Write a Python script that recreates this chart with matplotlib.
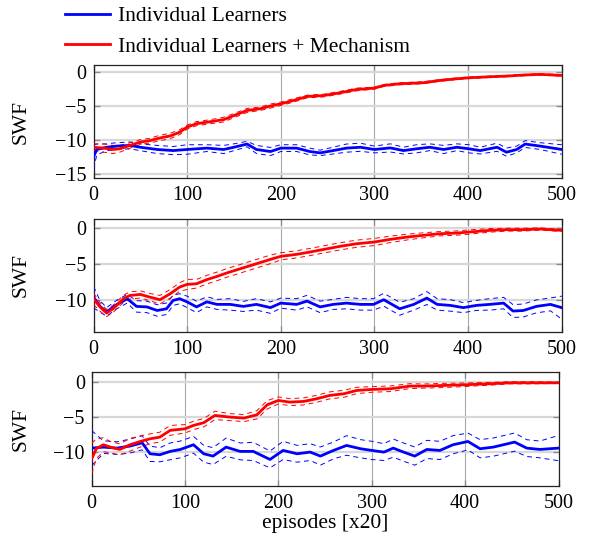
import matplotlib
matplotlib.use("Agg")
import matplotlib.pyplot as plt
from matplotlib.lines import Line2D

plt.rcParams['font.family'] = ['Liberation Serif', 'DejaVu Serif']

# ---------------- data: (episode, mean SWF, band half-width) ----------------
p1_blue = [(0,-12.5,1.8),(3.5,-11.4,0.8),(14,-11.07,0.5),(25,-10.9,0.5),(39,-10.8,0.5),
           (50,-11.07,0.5),(68,-11.4,0.6),(85,-11.56,0.6),(100,-11.4,0.7),(121,-11.2,0.5),
           (139,-11.4,0.6),(150,-11.07,0.5),(164,-10.6,0.4),(174,-11.4,0.6),(189,-11.7,0.6),
           (200,-11.2,0.5),(217,-11.2,0.5),(231,-11.7,0.5),(242,-11.9,0.4),(256,-11.56,0.5),
           (270,-11.2,0.6),(285,-11.07,0.6),(300,-11.4,0.5),(317,-11.17,0.6),(331,-11.56,0.5),
           (345,-11.3,0.6),(359,-11.07,0.5),(374,-11.4,0.6),(388,-11.07,0.5),(401,-11.3,0.6),
           (413,-11.56,0.5),(431,-11.07,0.6),(441,-11.8,0.6),(452,-11.4,0.5),(461,-10.6,0.5),
           (477,-10.9,0.5),(500,-11.4,0.7)]
p1_red = [(0,-11.07,0.5),(11,-11.2,0.6),(21,-11.4,0.6),(28,-11.3,0.5),(39,-10.8,0.4),
          (50,-10.3,0.35),(60,-10.1,0.35),(71,-9.7,0.4),(82,-9.4,0.4),(92,-8.85,0.35),
          (100,-8.1,0.3),(110,-7.6,0.3),(125,-7.3,0.3),(139,-7.0,0.35),(150,-6.4,0.3),
          (164,-5.65,0.3),(178,-5.4,0.25),(189,-5.0,0.3),(200,-4.67,0.25),(213,-4.2,0.25),
          (228,-3.6,0.2),(246,-3.45,0.2),(263,-3.05,0.2),(281,-2.56,0.2),(300,-2.36,0.15),
          (310,-1.97,0.15),(327,-1.72,0.15),(352,-1.57,0.15),(370,-1.23,0.12),(388,-0.98,0.12),
          (401,-0.84,0.12),(423,-0.69,0.1),(441,-0.59,0.1),(459,-0.44,0.1),(477,-0.34,0.1),
          (500,-0.49,0.1)]

p2_blue = [(0,-9.63,1.5),(7,-10.93,0.8),(14,-11.7,0.6),(25,-10.65,0.6),(36,-9.86,0.6),
           (46,-10.93,0.8),(57,-11.0,0.8),(68,-11.5,0.8),(78,-11.26,0.8),(85,-10.1,0.7),
           (92,-9.86,0.7),(100,-10.3,0.8),(110,-11.0,0.8),(121,-10.3,0.7),(132,-10.65,0.7),
           (146,-10.65,0.8),(160,-10.93,0.7),(174,-10.65,0.8),(189,-11.1,0.8),(200,-10.47,0.7),
           (217,-10.65,0.8),(228,-10.19,0.8),(242,-11.0,0.8),(256,-10.65,0.7),(270,-10.47,0.8),
           (285,-10.65,0.8),(299,-10.65,0.8),(310,-10.0,0.9),(327,-11.26,0.9),(342,-10.65,0.8),
           (356,-9.77,0.9),(367,-10.65,0.8),(381,-10.79,0.8),(395,-11.1,0.7),(409,-10.79,0.7),
           (423,-10.65,0.8),(438,-10.47,0.8),(448,-11.58,0.9),(459,-11.5,0.9),(473,-10.93,0.9),
           (488,-10.65,0.9),(500,-11.1,1.6)]
p2_red = [(0,-9.86,0.8),(7,-11.0,0.6),(14,-11.86,0.5),(21,-11.26,0.5),(32,-9.86,0.5),
          (39,-9.4,0.5),(50,-9.26,0.5),(60,-9.63,0.5),(71,-10.0,0.6),(82,-9.16,0.6),
          (92,-8.23,0.6),(100,-7.86,0.7),(110,-7.77,0.6),(121,-7.2,0.6),(132,-6.74,0.6),
          (142,-6.28,0.6),(157,-5.67,0.6),(174,-4.98,0.6),(189,-4.37,0.6),(200,-3.95,0.5),
          (217,-3.67,0.5),(231,-3.35,0.5),(246,-2.98,0.5),(263,-2.56,0.5),(281,-2.19,0.5),
          (300,-1.95,0.5),(317,-1.58,0.45),(335,-1.26,0.4),(352,-1.02,0.35),(370,-0.79,0.3),
          (388,-0.7,0.3),(401,-0.56,0.3),(423,-0.33,0.25),(441,-0.23,0.2),(459,-0.23,0.2),
          (477,-0.14,0.15),(500,-0.33,0.15)]

p3_blue = [(0,-9.43,2.5),(12.5,-9.29,0.9),(27,-9.43,0.9),(41,-9.14,1.0),(54,-8.67,1.0),
           (62.5,-10.24,1.1),(73,-10.38,1.0),(84,-9.9,1.2),(95,-9.62,1.2),(109,-8.95,1.2),
           (120,-10.24,1.2),(130,-10.57,1.2),(144,-9.29,1.3),(159,-9.9,1.2),(173,-9.9,1.3),
           (191,-11.05,1.2),(205,-9.76,1.3),(220,-10.24,1.2),(234,-10.0,1.2),(245,-10.57,1.3),
           (259,-9.76,1.2),(273,-9.05,1.4),(288,-9.52,1.3),(300,-9.76,1.3),(313,-10.0,1.2),
           (323,-9.43,1.3),(334,-10.0,1.3),(346,-10.57,1.3),(359,-9.62,1.3),(373,-9.76,1.3),
           (387,-8.95,1.3),(403,-8.48,1.2),(416,-9.52,1.3),(430,-9.29,1.3),(441,-8.95,1.3),
           (453,-8.57,1.3),(466,-9.43,1.2),(480,-9.62,1.2),(500,-9.43,1.8)]
p3_red = [(0,-10.95,2.2),(5,-9.5,1.4),(12.5,-8.95,1.0),(20,-9.29,0.8),(30,-9.62,0.8),
          (41,-8.95,0.9),(52,-8.48,0.8),(62.5,-8.1,0.7),(73,-7.86,0.7),(84,-6.9,0.7),
          (100,-6.67,0.6),(109,-6.19,0.6),(120,-5.8,0.6),(132,-4.76,0.6),(148,-5.0,0.5),
          (163,-5.14,0.5),(177,-4.67,0.6),(188,-3.24,0.6),(200,-2.62,0.5),(212,-2.86,0.5),
          (227,-2.76,0.5),(241,-2.38,0.5),(255,-1.9,0.5),(270,-1.67,0.5),(284,-1.19,0.45),
          (300,-1.05,0.4),(320,-0.95,0.4),(341,-0.57,0.35),(355,-0.57,0.3),(377,-0.48,0.3),
          (400,-0.38,0.25),(426,-0.24,0.2),(448,-0.1,0.15),(470,-0.1,0.15),(500,-0.1,0.1)]

labels = ["Individual Learners", "Individual Learners + Mechanism"]
x_ticks = [0, 100, 200, 300, 400, 500]
y_ticks_list = [[0, -5, -10, -15], [0, -5, -10], [0, -5, -10]]
ylims = [(-15.6, 1.0), (-14.5, 1.3), (-14.8, 1.4)]
panels = [(p1_blue, p1_red), (p2_blue, p2_red), (p3_blue, p3_red)]

# ---------------- figure ----------------
W, H = 592, 550
fig = plt.figure(figsize=(W / 100, H / 100), dpi=100)

# axes boxes in pixels: left, right, top, bottom
boxes = [(93.5, 561.7, 65.3, 178.0),
         (93.5, 561.7, 218.7, 332.0),
         (91.7, 558.5, 372.3, 485.7)]

BLUE = (0, 0, 1)
RED = (1, 0, 0)
TICK_FS = 14.5
LABEL_FS = 15.5

axes = []
for (l, r, t, b), (blue, red), yt, yl in zip(boxes, panels, y_ticks_list, ylims):
    ax = fig.add_axes([l / W, (H - b) / H, (r - l) / W, (b - t) / H])
    axes.append(ax)
    for series, col in ((blue, BLUE), (red, RED)):
        xs = [p[0] for p in series]
        ys = [p[1] for p in series]
        ws = [p[2] for p in series]
        up = [y + w for y, w in zip(ys, ws)]
        lo = [y - w for y, w in zip(ys, ws)]
        ax.plot(xs, up, color=col, lw=0.7, ls=(0, (5, 4)), zorder=3)
        ax.plot(xs, lo, color=col, lw=0.7, ls=(0, (5, 4)), zorder=3)
        ax.plot(xs, ys, color=col, lw=2.0, zorder=4, solid_joinstyle='round')
    ax.set_xlim(0, 500)
    ax.set_ylim(*yl)
    ax.set_xticks(x_ticks)
    ax.set_yticks(yt)
    ax.grid(True, axis='x', color='#a8a8a8', lw=0.8, zorder=0)
    ax.grid(True, axis='y', color='#d8d8d8', lw=1.6, zorder=0)
    ax.set_axisbelow(True)
    ax.tick_params(direction='in', length=4, width=1.0, color='#8c8c8c',
                   labelsize=TICK_FS, left=True, right=True, top=True, bottom=True)
    ax.tick_params(axis='x', pad=6)
    ax.tick_params(axis='y', pad=5)
    for s in ax.spines.values():
        s.set_linewidth(0.9)
        s.set_color('#222222')
    ax.set_ylabel("SWF", fontsize=LABEL_FS)
    ax.yaxis.set_label_coords((31 - l) / (r - l), 0.5)

axes[-1].set_xlabel("episodes [x20]", fontsize=LABEL_FS)
l, r, t, b = boxes[-1]
axes[-1].xaxis.set_label_coords(0.5, (b - 514) / (b - t))

handles = [Line2D([], [], color=BLUE, lw=2.0), Line2D([], [], color=RED, lw=2.0)]
fig.legend(handles, labels, loc='upper left', bbox_to_anchor=(65 / W, (H - 6) / H),
           frameon=False, fontsize=LABEL_FS, handlelength=2.1, handletextpad=0.35,
           labelspacing=0.5, borderpad=0, borderaxespad=0)

fig.savefig("out.png", dpi=100)
